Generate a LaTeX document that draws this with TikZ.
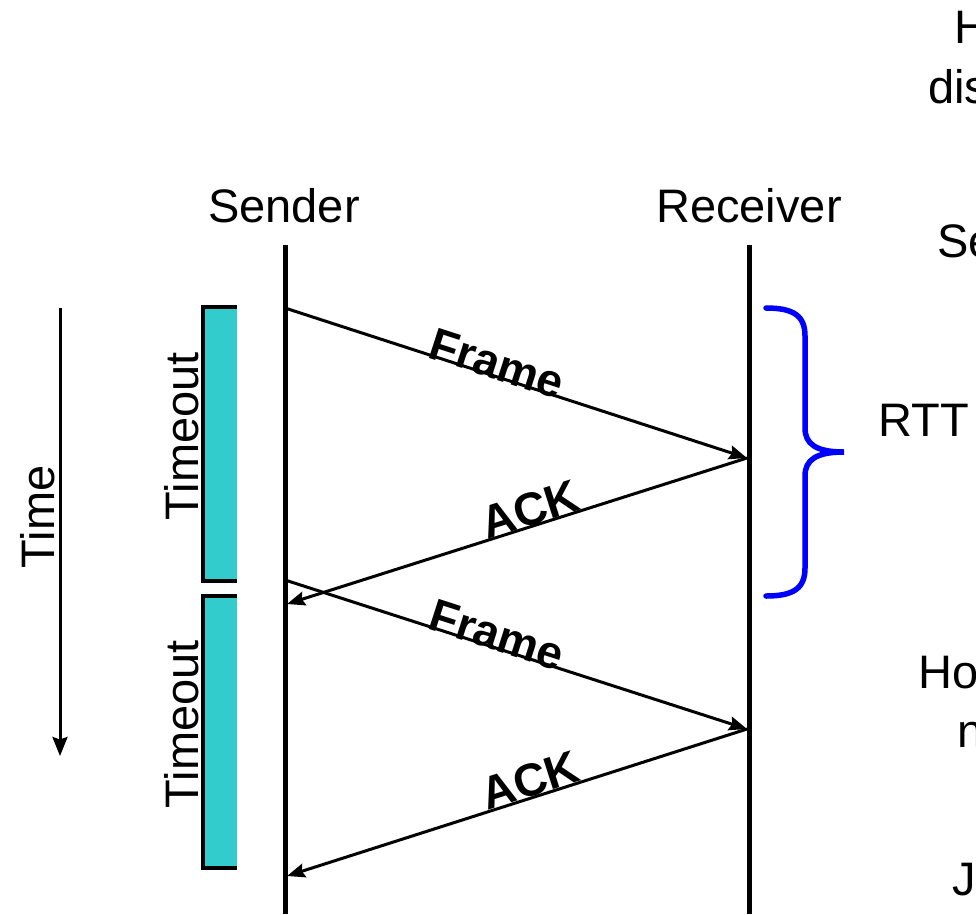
\documentclass[tikz,border=0pt]{standalone}
\usepackage{fontspec}
\setmainfont{Liberation Sans}
\usetikzlibrary{arrows.meta}
\definecolor{tocyan}{HTML}{33CCCC}
\definecolor{braceblue}{HTML}{0000FF}
\tikzset{
  lbl/.style={inner sep=0pt, font=\fontsize{47}{56}\selectfont},
  msglbl/.style={inner sep=0pt, sloped, anchor=base, font=\fontsize{46}{54}\selectfont\bfseries},
  lifeline/.style={line width=5pt},
  msg/.style={line width=3pt, -{Stealth[length=18pt,width=14pt,inset=2.5pt]}},
  tobox/.style={fill=tocyan},
  toedge/.style={line width=3.5pt},
  rttbrace/.style={braceblue, line width=5.5pt, line cap=round},
}
\begin{document}
\begin{tikzpicture}[x=1pt,y=-1pt]
\useasboundingbox (0,0) rectangle (976,914);
\clip (0,0) rectangle (976,914);

% lifelines
\coordinate (stop) at (285,245);
\coordinate (sbot) at (285,914);
\coordinate (rtop) at (749,245);
\coordinate (rbot) at (749,914);
\draw[lifeline] (stop) -- (sbot);
\draw[lifeline] (rtop) -- (rbot);

\node[lbl, anchor=base] (sender) at (284,222) {Sender};
\node[lbl, anchor=base] (receiver) at (749,222) {Receiver};

% time axis
\coordinate (tstart) at (60,308);
\coordinate (tend) at (60,756);
\draw[line width=3pt, -{Stealth[length=19pt,width=15pt,inset=2.5pt]}] (tstart) -- (tend);
\node[lbl, rotate=90, anchor=base] (time) at (54,517) {Time};

% timeout boxes
\fill[tobox] (203,307) rectangle (237,581);
\draw[toedge] (237,307) -- (203,307) -- (203,581) -- (237,581);
\node[lbl, rotate=90, anchor=base] (to1) at (198,436) {Timeout};
\fill[tobox] (203,596) rectangle (237,868);
\draw[toedge] (237,596) -- (203,596) -- (203,868) -- (237,868);
\node[lbl, rotate=90, anchor=base] (to2) at (198,724) {Timeout};

% messages
\coordinate (s1) at (285,308);
\coordinate (r1) at (747,458);
\coordinate (a1) at (287,604);
\coordinate (s2) at (285,580);
\coordinate (r2) at (747,729);
\coordinate (a2) at (287,876);
\draw[msg] (s1) -- node[msglbl, pos=0.45, yshift=-3pt] (f1) {Frame} (r1);
\draw[msg] (r1) -- node[msglbl, pos=0.46, yshift=1pt] (k1) {ACK} (a1);
\draw[msg] (s2) -- node[msglbl, pos=0.45, yshift=-3pt] (f2) {Frame} (r2);
\draw[msg] (r2) -- node[msglbl, pos=0.46, yshift=1pt] (k2) {ACK} (a2);

% RTT brace
\draw[rttbrace] (766,308) .. controls (794,308) and (805,316) .. (805,336)
  -- (805,428) .. controls (805,444) and (816,452) .. (844,452)
  .. controls (816,452) and (805,460) .. (805,476)
  -- (805,568) .. controls (805,588) and (794,596) .. (766,596);

% right-hand text (cut off at the edge)
\node[lbl, anchor=base west] (t1) at (954,43) {H};
\node[lbl, anchor=base west] (t2) at (928,103) {dis};
\node[lbl, anchor=base west] (t3) at (937,257) {Se};
\node[lbl, anchor=base west] (rtt) at (878,436) {RTT};
\node[lbl, anchor=base west] (t4) at (918,688) {Ho};
\node[lbl, anchor=base west] (t5) at (957,747) {n};
\node[lbl, anchor=base west] (t6) at (952,895) {J};
\end{tikzpicture}
\end{document}
